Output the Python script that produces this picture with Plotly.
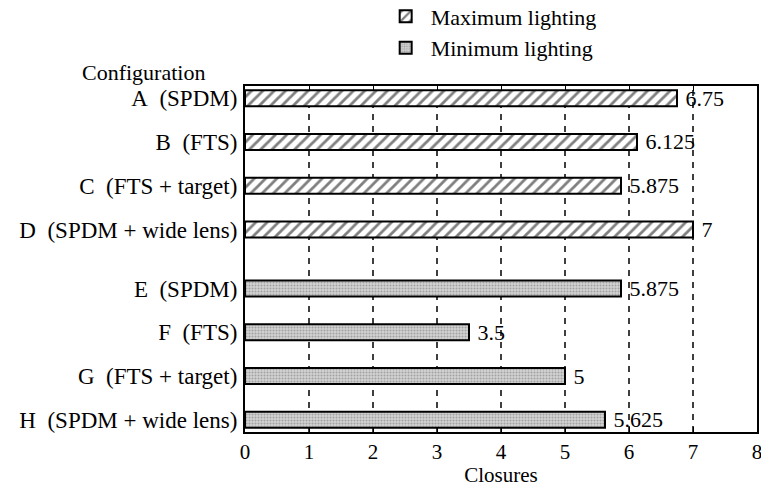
import plotly.graph_objects as go

# Configurations and their closure counts
max_configs = ["A\u00a0 (SPDM)", "B\u00a0 (FTS)", "C\u00a0 (FTS + target)", "D\u00a0 (SPDM + wide lens)"]
max_values = [6.75, 6.125, 5.875, 7]
min_configs = ["E\u00a0 (SPDM)", "F\u00a0 (FTS)", "G\u00a0 (FTS + target)", "H\u00a0 (SPDM + wide lens)"]
min_values = [5.875, 3.5, 5, 5.625]

# Row positions (top to bottom), with a wider gap between the two groups
max_rows = [0, 1, 2, 3]
min_rows = [4.35, 5.35, 6.35, 7.35]

x_ticks = [0, 1, 2, 3, 4, 5, 6, 7, 8]

FONT = "Liberation Serif, Times New Roman, serif"


def fmt(v):
    # leading space keeps the value label clear of the bar end
    return "\u00a0" + f"{v:g}"


fig = go.Figure()
fig.add_trace(go.Bar(
    name="Maximum lighting",
    x=max_values, y=max_rows, orientation="h", width=0.37,
    marker=dict(color="white", line=dict(color="black", width=2),
                pattern=dict(shape="/", fgcolor="black", bgcolor="white",
                             size=8, solidity=0.35)),
    text=[fmt(v) for v in max_values], textposition="outside", constraintext="none",
    textfont=dict(family=FONT, size=22, color="black"), cliponaxis=False,
))
fig.add_trace(go.Bar(
    name="Minimum lighting",
    x=min_values, y=min_rows, orientation="h", width=0.37,
    marker=dict(color="#c4c4c4", line=dict(color="black", width=2),
                pattern=dict(shape=".", fgcolor="#707070", bgcolor="#d4d4d4",
                             size=3, solidity=0.4)),
    text=[fmt(v) for v in min_values], textposition="outside", constraintext="none",
    textfont=dict(family=FONT, size=22, color="black"), cliponaxis=False,
))

# Dashed vertical guide lines at the interior ticks
for t in x_ticks[1:-1]:
    fig.add_shape(type="line", xref="x", yref="paper", x0=t, x1=t, y0=0, y1=1,
                  line=dict(color="black", width=1.5, dash="6px,6px"), layer="below")

fig.add_annotation(text="Configuration", xref="paper", yref="paper",
                   x=-0.198, y=0.997, xanchor="center", yanchor="bottom",
                   showarrow=False, font=dict(family=FONT, size=22, color="black"))

fig.update_layout(
    width=761, height=487,
    margin=dict(l=245, r=4, t=86, b=55, autoexpand=False),
    paper_bgcolor="white", plot_bgcolor="white",
    font=dict(family=FONT, size=22, color="black"),
    showlegend=True,
    legend=dict(x=0.265, y=1.262, xanchor="left", yanchor="top",
                font=dict(family=FONT, size=22, color="black"),
                bgcolor="rgba(0,0,0,0)", itemwidth=40, tracegroupgap=0),
    barmode="overlay",
)
fig.update_xaxes(
    range=[0, 8], tickvals=x_ticks, ticktext=[str(t) for t in x_ticks],
    showgrid=False, zeroline=False, showline=True, linecolor="black", linewidth=2,
    mirror="ticks", ticks="inside", ticklen=5, tickcolor="black",
    ticklabeloverflow="allow",
    tickfont=dict(family=FONT, size=21, color="black"),
    title=dict(text="Closures", font=dict(family=FONT, size=21, color="black"), standoff=0),
)
fig.update_yaxes(
    range=[7.63, -0.28], tickvals=max_rows + min_rows, ticktext=max_configs + min_configs,
    showgrid=False, zeroline=False, showline=True, linecolor="black", linewidth=2,
    mirror=True, ticks="", ticklabelstandoff=1,
    tickfont=dict(family=FONT, size=23, color="black"),
)

fig.write_html("out.html")
